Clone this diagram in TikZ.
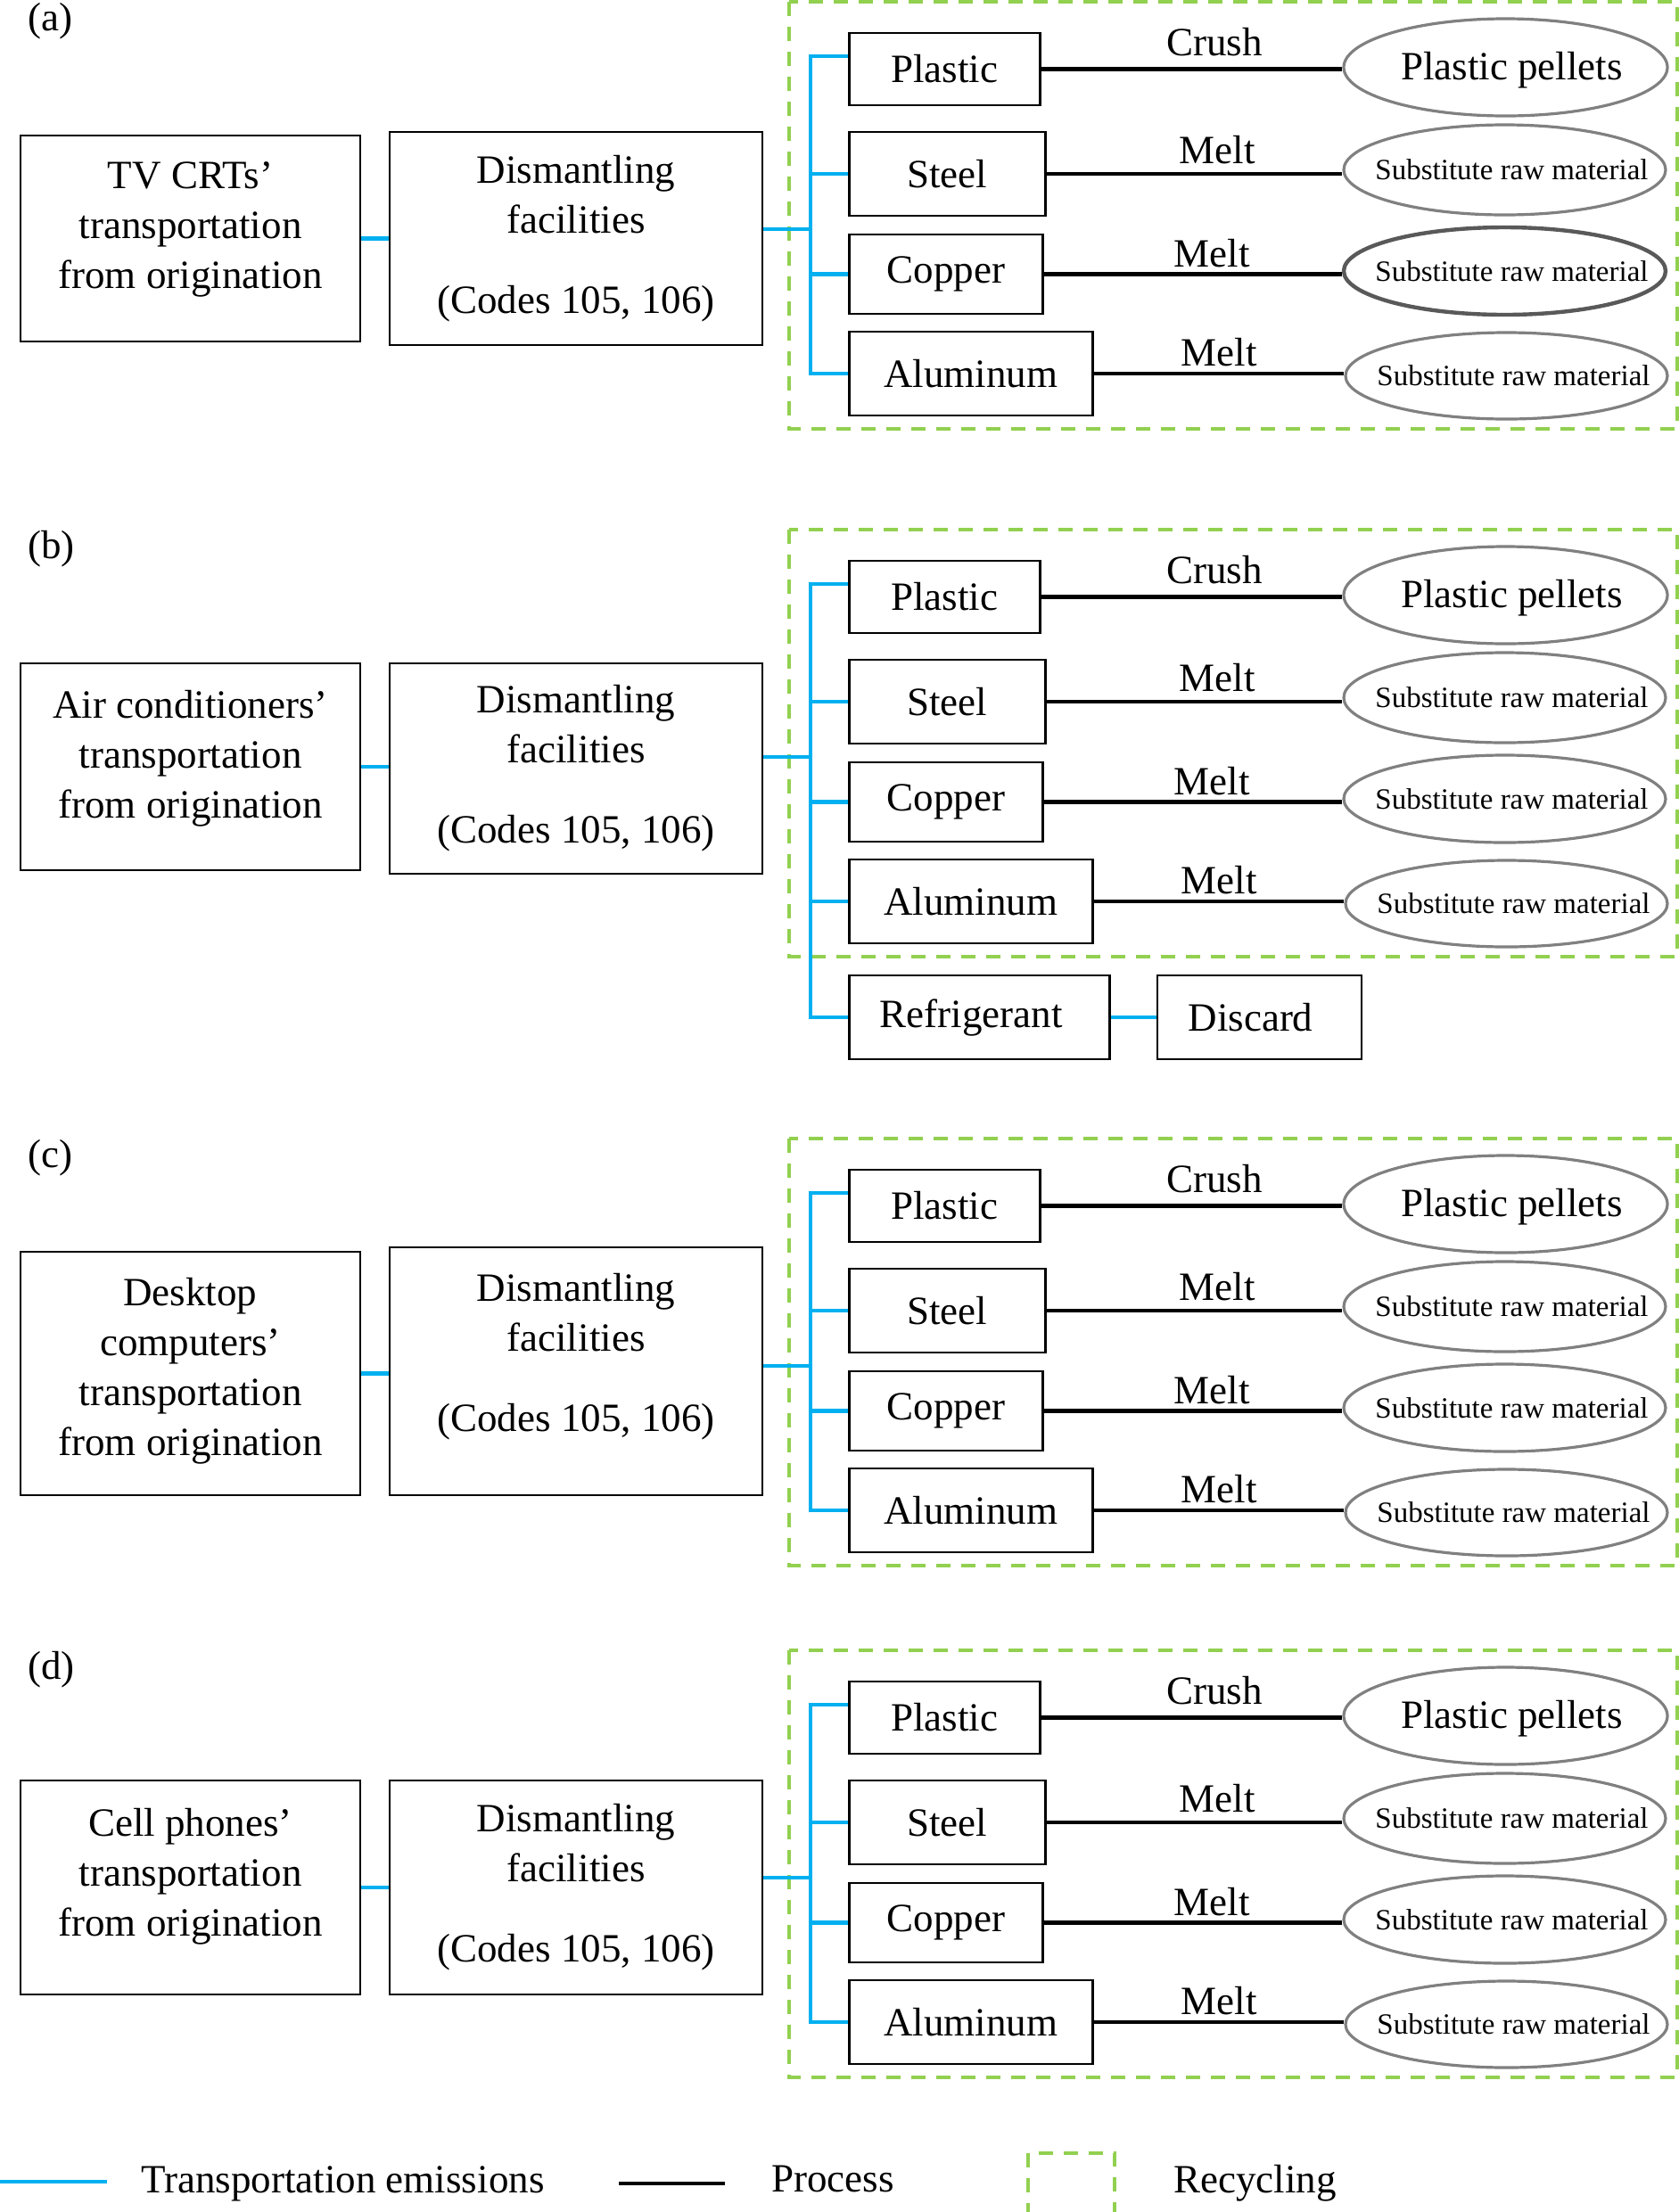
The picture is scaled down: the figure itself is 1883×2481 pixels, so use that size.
\documentclass[tikz,border=0pt]{standalone}
\usepackage{fontspec}
\setmainfont{Liberation Serif}
\usepackage{xcolor}
\usepackage{tikz}
\usetikzlibrary{shapes.geometric}

\definecolor{transblue}{HTML}{00B0F0}
\definecolor{recgreen}{HTML}{92D050}
\definecolor{ellgray}{HTML}{808080}
\definecolor{elldark}{HTML}{595959}
\newcommand\bigtxt{\fontsize{22.5}{28}\selectfont}
\newcommand\smalltxt{\fontsize{16.5}{20}\selectfont}

\tikzset{
  box/.style={draw, line width=1.3pt, inner sep=0pt, align=center, font=\bigtxt},
  ell/.style={draw=ellgray, line width=1.6pt, ellipse, inner sep=0pt},
  trans/.style={transblue, line width=2.4pt},
  proc/.style={black, line width=2.4pt},
  recyc/.style={recgreen, line width=2pt, dash pattern=on 8pt off 6pt},
  lbl/.style={inner sep=0pt, font=\bigtxt, anchor=base},
}

\begin{document}
\begin{tikzpicture}[x=0.5pt, y=-0.5pt]
\useasboundingbox (0,0) rectangle (1883,2481);

% origin and dismantling boxes
\node[box, minimum width=190.5pt, minimum height=115.5pt, text depth=14.5pt] (origa) at (213.5,267.5) {TV CRTs’\\transportation\\from origination};
\node[box, minimum width=209pt, minimum height=119.5pt] (disa) at (646,267.5) {Dismantling\\facilities\\[17pt](Codes 105, 106)};
\node[box, minimum width=190.5pt, minimum height=116pt, text depth=14.5pt] (origb) at (213.5,860) {Air conditioners’\\transportation\\from origination};
\node[box, minimum width=209pt, minimum height=118pt] (disb) at (646,862) {Dismantling\\facilities\\[17pt](Codes 105, 106)};
\node[box, minimum width=190.5pt, minimum height=136.5pt, text depth=8pt] (origc) at (213.5,1540.5) {Desktop\\computers’\\transportation\\from origination};
\node[box, minimum width=209pt, minimum height=139pt, text depth=21.5pt] (disc) at (646,1538) {Dismantling\\facilities\\[17pt](Codes 105, 106)};
\node[box, minimum width=190.5pt, minimum height=120pt, text depth=17.5pt] (origd) at (213.5,2117) {Cell phones’\\transportation\\from origination};
\node[box, minimum width=209pt, minimum height=120pt] (disd) at (646,2117) {Dismantling\\facilities\\[17pt](Codes 105, 106)};

\foreach \yo/\p/\cc/\cw in {0/a/elldark/2.2pt, 592/b/ellgray/1.6pt, 1275/c/ellgray/1.6pt, 1849/d/ellgray/1.6pt} {
  \draw[recyc] (885,\yo+2) rectangle (1881,\yo+481);
  \node[lbl, anchor=base west] (tag\p) at (31,\yo+34) {(\p)};
  % materials
  \node[box, anchor=west, minimum width=107pt, minimum height=40.5pt] (plas\p) at (951,\yo+77.5) {Plastic};
  \node[box, anchor=west, minimum width=110pt, minimum height=47pt] (stl\p) at (951,\yo+195) {Steel};
  \node[box, anchor=west, minimum width=108.5pt, minimum height=44.5pt] (cop\p) at (951,\yo+307.5) {Copper};
  \node[box, anchor=west, minimum width=136.5pt, minimum height=47pt] (alu\p) at (951,\yo+419) {Aluminum};
  % products
  \node[ell, minimum width=181.5pt, minimum height=54.5pt, label={[font=\bigtxt, xshift=3.5pt, yshift=-1.5pt]center:Plastic pellets}] (pel\p) at (1688.5,\yo+75.5) {};
  \node[ell, minimum width=180.5pt, minimum height=50.5pt, label={[font=\smalltxt, xshift=4pt]center:Substitute raw material}] (subs\p) at (1687.5,\yo+190.5) {};
  \node[ell, draw=\cc, line width=\cw, minimum width=180.5pt, minimum height=49pt, label={[font=\smalltxt, xshift=4pt]center:Substitute raw material}] (subc\p) at (1687.5,\yo+304) {};
  \node[ell, minimum width=180.5pt, minimum height=48.5pt, label={[font=\smalltxt, xshift=4pt]center:Substitute raw material}] (suba\p) at (1689.5,\yo+421.5) {};
  \draw[proc] (plas\p.east) -- (plas\p.east -| pel\p.west);
  \draw[proc] (stl\p.east) -- (stl\p.east -| subs\p.west);
  \draw[proc] (cop\p.east) -- (cop\p.east -| subc\p.west);
  \draw[proc] (alu\p.east) -- (alu\p.east -| suba\p.west);
  \node[lbl] (crush\p) at (1362,\yo+62) {Crush};
  \node[lbl] (melts\p) at (1365,\yo+183) {Melt};
  \node[lbl] (meltc\p) at (1359,\yo+299) {Melt};
  \node[lbl] (melta\p) at (1367,\yo+410) {Melt};
  % transport
  \coordinate (top\p) at (909,\yo+63);
  \coordinate (jn\p) at (909,\yo+257);
  \draw[trans] (orig\p.east) -- (orig\p.east -| dis\p.west);
  \draw[trans] (dis\p.east |- jn\p) -- (jn\p);
  \draw[trans] (top\p -| plas\p.west) -- (top\p) |- (alu\p.west);
  \draw[trans] (top\p |- stl\p.west) -- (stl\p.west);
  \draw[trans] (top\p |- cop\p.west) -- (cop\p.west);
}

% refrigerant branch of (b)
\node[box, anchor=west, minimum width=146pt, minimum height=47pt] (refr) at (951,1141) {Refrigerant\kern9pt};
\node[box, minimum width=114.5pt, minimum height=47pt] (discard) at (1412.5,1141) {Discard\kern10pt};
\draw[trans] (topb |- alub.west) |- (refr.west);
\draw[trans] (refr.east) -- (discard.west);

% legend
\coordinate (lg1a) at (0,2447);
\coordinate (lg1b) at (120,2447);
\draw[trans] (lg1a) -- (lg1b);
\node[lbl, anchor=base west] (lgtrans) at (158,2459) {Transportation emissions};
\coordinate (lg2a) at (694,2449);
\coordinate (lg2b) at (813,2449);
\draw[proc] (lg2a) -- (lg2b);
\node[lbl, anchor=base west] (lgproc) at (865,2458) {Process};
\draw[recyc] (1153,2415) rectangle (1250,2500);
\node[lbl, anchor=base west] (lgrec) at (1316,2459) {Recycling};
\end{tikzpicture}
\end{document}
